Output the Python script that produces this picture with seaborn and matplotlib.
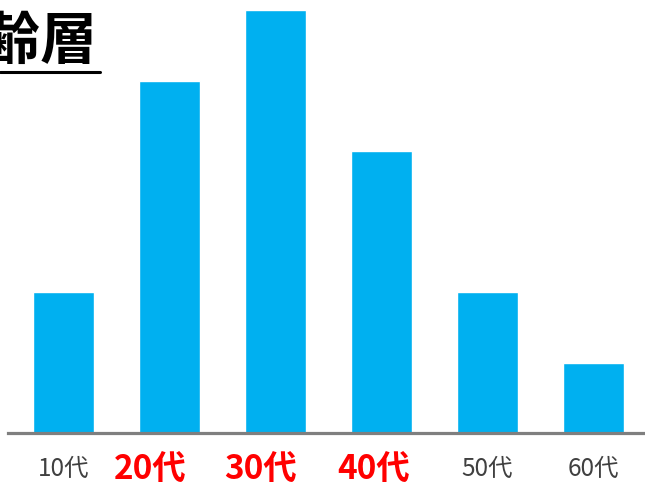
import matplotlib
matplotlib.use("Agg")
import matplotlib.pyplot as plt
import matplotlib.transforms as mtransforms
from matplotlib.lines import Line2D
import seaborn as sns
import pandas as pd

categories = ["10代", "20代", "30代", "40代", "50代", "60代"]
values = [2, 5, 6, 4, 2, 1]
highlight = [False, True, True, True, False, False]
label_shift_px = [0, -19, -15, -8, 0, 0]
title_text = "年齢層"

sns.set_theme(style="white")
plt.rcParams['font.family'] = ['Noto Sans CJK JP', 'DejaVu Sans']

fig = plt.figure(figsize=(6.45, 4.84), dpi=100)
ax = fig.add_axes([8/645, 51/484, 637/645, 433/484])

df = pd.DataFrame({"cat": categories, "val": values})
sns.barplot(data=df, x="cat", y="val", color="#00B0F0", saturation=1,
            width=0.575, ax=ax)

ax.set_xlim(-0.524, 5.486)
ax.set_ylim(0, 433/70.5)
ax.set_xlabel("")
ax.set_ylabel("")
ax.set_yticks([])
for s in ["top", "right", "left"]:
    ax.spines[s].set_visible(False)
ax.spines["bottom"].set_color("#7F7F7F")
ax.spines["bottom"].set_linewidth(2.3)
ax.tick_params(axis="x", length=0, pad=14)

for lbl, hl, sh in zip(ax.get_xticklabels(), highlight, label_shift_px):
    dy = 0
    if hl:
        lbl.set_color("#FF0000")
        lbl.set_fontsize(24)
        lbl.set_fontweight("bold")
    else:
        lbl.set_color("#404040")
        lbl.set_fontsize(17.5)
        dy = -4
    lbl.set_transform(lbl.get_transform() +
                      mtransforms.ScaledTranslation(sh/100, dy/100, fig.dpi_scale_trans))

fig.text(98/645, 1 - 42/484, title_text, ha="right", va="center",
         fontsize=41, fontweight="bold", color="black")
fig.add_artist(Line2D([0, 100/645], [1 - 72/484, 1 - 72/484],
                      transform=fig.transFigure, color="black", linewidth=2.2))

fig.savefig("out.png", dpi=100)
